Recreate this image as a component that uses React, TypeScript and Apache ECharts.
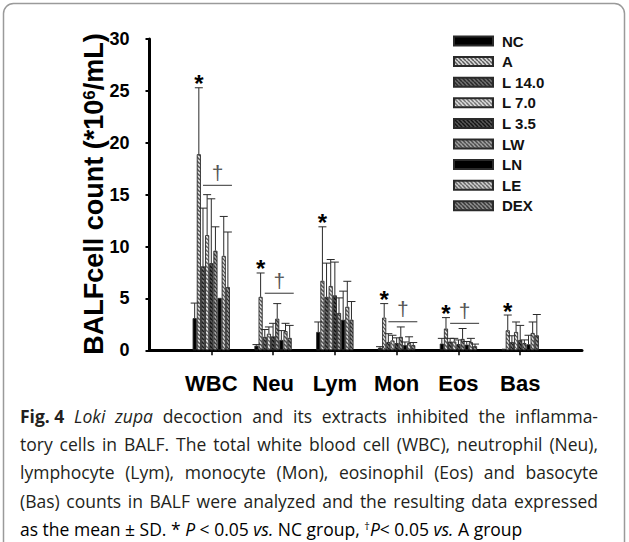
import React, { useEffect, useRef } from 'react';
import * as echarts from 'echarts';

const categories = ['WBC', 'Neu', 'Lym', 'Mon', 'Eos', 'Bas'];
const xCats = ['s', ...categories, 'e'];
const groupNames = ['NC', 'A', 'L 14.0', 'L 7.0', 'L 3.5', 'LW', 'LN', 'LE', 'DEX'];

const ncMean = [3.1, 0.45, 1.77, 0.25, 0.65, 0.15];
const ncSd = [1.45, 0.1, 0.96, 0.1, 0.5, 0];
const aMean = [18.9, 5.15, 6.7, 3.15, 2.1, 1.93];
const aSd = [6.4, 2.3, 5.2, 1.35, 1.05, 1.47];
const l14Mean = [8.1, 1.3, 5.15, 0.8, 0.85, 0.8];
const l14Sd = [5.6, 0.7, 3.25, 0.8, 0.3, 0.6];
const l7Mean = [11.1, 1.6, 6.2, 0.95, 0.85, 1.77];
const l7Sd = [3.9, 0.65, 2.55, 0.5, 0.3, 0.96];
const l35Mean = [8.4, 1.35, 5.3, 0.7, 0.6, 1.0];
const l35Sd = [6.2, 1.25, 3.2, 0.5, 0.4, 1.4];
const lwMean = [9.6, 3.05, 3.6, 1.3, 1.1, 0.7];
const lwSd = [2.3, 1.45, 1.45, 0.95, 1.0, 0.3];
const lnMean = [5.05, 1.0, 2.95, 0.5, 0.55, 0.58];
const lnSd = [0, 0.9, 2.75, 0.3, 0.3, 0.87];
const leMean = [9.1, 1.85, 4.2, 0.7, 0.8, 1.67];
const leSd = [3.8, 0.75, 2.45, 0.6, 0.35, 1.06];
const dexMean = [6.1, 1.2, 2.95, 0.5, 0.4, 1.45];
const dexSd = [5.3, 1.2, 1.75, 0.25, 0.2, 2.0];

const daggerLevels = [15.9, 5.5, NaN, 2.75, 2.6, NaN];

const yMin = 0;
const yMax = 30;
const yStep = 5;

// caption: justified lines as [style, text] segments
const captionJustified: [string, string][][] = [
  [['b', 'Fig. 4'], ['i', 'Loki zupa'], ['n', 'decoction and its extracts inhibited the inflamma-']],
  [['n', 'tory cells in BALF. The total white blood cell (WBC), neutrophil (Neu),']],
  [['n', 'lymphocyte (Lym), monocyte (Mon), eosinophil (Eos) and basocyte']],
  [['n', '(Bas) counts in BALF were analyzed and the resulting data expressed']],
];
const captionLast =
  '{n|as the mean ± SD. * }{i|P}{n| < 0.05 }{i|vs.}{n| NC group, }{sup|†}{i|P}{n|< 0.05 }{i|vs.}{n| A group}';

const means = [ncMean, aMean, l14Mean, l7Mean, l35Mean, lwMean, lnMean, leMean, dexMean];
const sds = [ncSd, aSd, l14Sd, l7Sd, l35Sd, lwSd, lnSd, leSd, dexSd];

const FONT = '"Liberation Sans", Arial, sans-serif';
const CAP_FAMILY = '"Open Sans"';
const CAP_SIZE = 17.5;
const BW = 4.15;

function makePattern(bg: string, stripe: string | null, tile = 4, lw = 1.5): any {
  if (!stripe) return bg;
  const c = document.createElement('canvas');
  c.width = tile;
  c.height = tile;
  const ctx = c.getContext('2d')!;
  ctx.fillStyle = bg;
  ctx.fillRect(0, 0, tile, tile);
  ctx.strokeStyle = stripe;
  ctx.lineWidth = lw;
  for (let k = -1; k <= 1; k++) {
    ctx.beginPath();
    ctx.moveTo(k * tile, 0);
    ctx.lineTo(k * tile + tile, tile);
    ctx.stroke();
  }
  return { image: c, repeat: 'repeat' };
}

const capStyles: Record<string, any> = {
  n: { fontFamily: CAP_FAMILY, fontSize: CAP_SIZE, color: '#231f20' },
  b: { fontFamily: CAP_FAMILY, fontSize: CAP_SIZE, color: '#231f20', fontWeight: 'bold' },
  i: { fontFamily: CAP_FAMILY, fontSize: CAP_SIZE, color: '#231f20', fontStyle: 'italic' },
  sup: { fontFamily: CAP_FAMILY, fontSize: 11, color: '#231f20', verticalAlign: 'top' },
};

function cssFont(s: any) {
  return `${s.fontStyle || 'normal'} normal ${s.fontWeight || 'normal'} ${s.fontSize}px ${s.fontFamily}`;
}

function buildCaption(): any[] {
  const mctx = document.createElement('canvas').getContext('2d')!;
  const out: any[] = [];
  const left = 20;
  const right = 598;
  const y0 = 416;
  const lh = 28.2;
  captionJustified.forEach((segs, li) => {
    const words: { text: string; st: string }[] = [];
    segs.forEach(([st, text]) => {
      if (st === 'b') words.push({ text, st });
      else text.split(' ').forEach((w) => words.push({ text: w, st }));
    });
    const widths = words.map((w) => {
      mctx.font = cssFont(capStyles[w.st]);
      return mctx.measureText(w.text).width;
    });
    const total = widths.reduce((a, b) => a + b, 0);
    const gap = (right - left - total) / (words.length - 1);
    let x = left;
    words.forEach((w, wi) => {
      const s = capStyles[w.st];
      out.push({
        type: 'text',
        x,
        y: y0 + li * lh,
        style: {
          text: w.text,
          font: cssFont(s),
          fill: s.color,
          align: 'left',
          verticalAlign: 'middle',
        },
      });
      x += widths[wi] + gap;
    });
  });
  out.push({
    type: 'text',
    x: left,
    y: y0 + 4 * lh,
    style: {
      text: captionLast,
      align: 'left',
      verticalAlign: 'middle',
      rich: capStyles,
    },
  });
  return out;
}

export default function App() {
  const ref = useRef<HTMLDivElement>(null);
  useEffect(() => {
    if (!ref.current) return;
    const chart = echarts.init(ref.current, undefined, { renderer: 'svg' });
    const patterns = [
      makePattern('#000', null),
      makePattern('#e4e4e4', '#555'),
      makePattern('#7a7a7a', '#1e1e1e'),
      makePattern('#eaeaea', '#666'),
      makePattern('#5a5a5a', '#111'),
      makePattern('#b0b0b0', '#3a3a3a'),
      makePattern('#000', null),
      makePattern('#dedede', '#555'),
      makePattern('#9a9a9a', '#2e2e2e'),
    ];

    const barSeries = groupNames.map((g, gi) => ({
      type: 'bar',
      name: g,
      data: [null, ...means[gi], null],
      barWidth: BW,
      barGap: '0%',
      itemStyle: { color: patterns[gi], borderColor: '#2a2a2a', borderWidth: 0.9 },
      z: 2,
      silent: true,
    }));

    const errSeries = groupNames.map((g, gi) => ({
      type: 'custom',
      name: 'err-' + g,
      data: categories.map((c, ci) => [xCats[ci + 1], means[gi][ci], sds[gi][ci]]),
      z: 3,
      silent: true,
      renderItem: (params: any, api: any) => {
        const sd = api.value(2);
        if (!(sd > 0)) return { type: 'group', children: [] };
        const c = api.coord([api.value(0), api.value(1)]);
        const t = api.coord([api.value(0), api.value(1) + sd]);
        const x = c[0] + (gi - 4) * BW;
        const st = { stroke: '#2a2a2a', lineWidth: 1 };
        return {
          type: 'group',
          children: [
            { type: 'line', shape: { x1: x, y1: c[1], x2: x, y2: t[1] }, style: st },
            { type: 'line', shape: { x1: x - 4, y1: t[1], x2: x + 4, y2: t[1] }, style: st },
          ],
        };
      },
    }));

    const annSeries = {
      type: 'custom',
      name: 'annotations',
      data: categories.map((c, ci) => [xCats[ci + 1], aMean[ci] + aSd[ci], daggerLevels[ci]]),
      z: 4,
      silent: true,
      renderItem: (params: any, api: any) => {
        const top = api.coord([api.value(0), api.value(1)]);
        const cx = top[0];
        const children: any[] = [
          {
            type: 'text',
            style: {
              text: '*',
              x: cx - 3 * BW,
              y: top[1] - 4,
              align: 'center',
              verticalAlign: 'middle',
              font: 'bold 24px ' + FONT,
              fill: '#000',
            },
          },
        ];
        const dl = api.value(2);
        if (dl === dl && dl > 0) {
          const p = api.coord([api.value(0), dl]);
          const x1 = cx - 2 * BW;
          const x2 = cx + 4.5 * BW + 2;
          children.push({
            type: 'line',
            shape: { x1, y1: p[1], x2, y2: p[1] },
            style: { stroke: '#333', lineWidth: 1 },
          });
          children.push({
            type: 'text',
            style: {
              text: '†',
              x: (x1 + x2) / 2,
              y: p[1] - 13,
              align: 'center',
              verticalAlign: 'middle',
              font: '21px ' + FONT,
              fill: '#555',
            },
          });
        }
        return { type: 'group', children };
      },
    };

    chart.setOption({
      animation: false,
      backgroundColor: '#fff',
      grid: { left: 149.5, right: 47, top: 39, bottom: 191.7, containLabel: false },
      legend: {
        data: groupNames,
        orient: 'vertical',
        left: 448,
        top: 28.5,
        itemWidth: 39,
        itemHeight: 9,
        itemGap: 5.6,
        icon: 'rect',
        selectedMode: false,
        textStyle: { fontFamily: FONT, fontWeight: 'bold', fontSize: 15, color: '#111', padding: [0, 0, 0, 4] },
      },
      xAxis: {
        type: 'category',
        data: xCats,
        boundaryGap: false,
        axisLine: { lineStyle: { color: '#000', width: 3 } },
        axisTick: {
          length: 5,
          lineStyle: { color: '#000', width: 1.5 },
          interval: (i: number) => i >= 1 && i <= 6,
        },
        axisLabel: {
          interval: (i: number) => i >= 1 && i <= 6,
          fontFamily: FONT,
          fontWeight: 'bold',
          fontSize: 22,
          color: '#000',
          margin: 22,
        },
        splitLine: { show: false },
      },
      yAxis: {
        type: 'value',
        min: yMin,
        max: yMax,
        interval: yStep,
        axisLine: { show: true, lineStyle: { color: '#000', width: 3 } },
        axisTick: { show: true, length: 4, lineStyle: { color: '#000', width: 2 } },
        axisLabel: { fontFamily: FONT, fontWeight: 'bold', fontSize: 18, color: '#000', margin: 20 },
        splitLine: { show: false },
      },
      graphic: [
        {
          type: 'rect',
          shape: { x: 3.5, y: 3.5, width: 621, height: 552, r: 10 },
          style: { fill: 'none', stroke: '#9a9a9a', lineWidth: 1.5 },
          z: -10,
        },
        {
          type: 'text',
          x: 94,
          y: 194,
          rotation: Math.PI / 2,
          style: {
            text: '{b|BALFcell count (*10}{s|6}{b|/mL)}',
            align: 'center',
            verticalAlign: 'middle',
            rich: {
              b: { fontFamily: FONT, fontWeight: 'bold', fontSize: 27, color: '#000' },
              s: { fontFamily: FONT, fontWeight: 'bold', fontSize: 17, color: '#000', verticalAlign: 'top' },
            },
          },
        },
        ...buildCaption(),
      ],
      series: [...barSeries, ...errSeries, annSeries],
    });
    return () => chart.dispose();
  }, []);
  return (
    <div
      ref={ref}
      style={{ position: 'absolute', left: 0, top: 0, width: 629, height: 542, background: '#fff' }}
    />
  );
}
